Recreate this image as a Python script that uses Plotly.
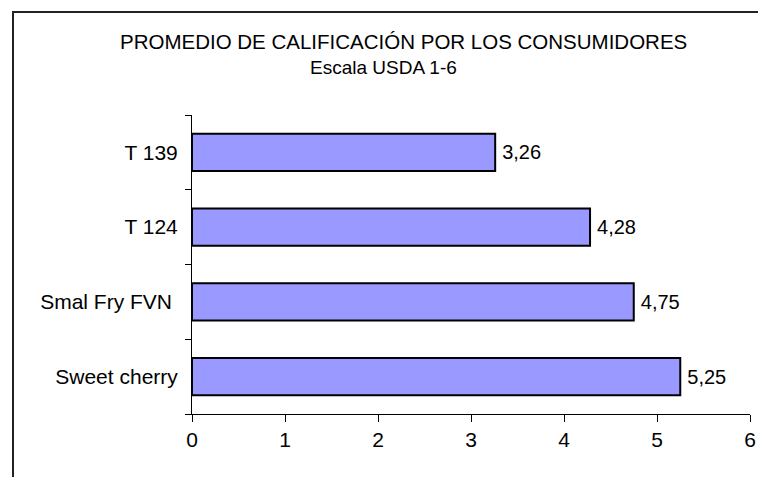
import plotly.graph_objects as go

categories = ["Sweet cherry", "Smal Fry FVN\u00a0", "T 124", "T 139"]
values = [5.25, 4.75, 4.28, 3.26]
x_ticks = [0, 1, 2, 3, 4, 5, 6]
title_line1 = "PROMEDIO DE CALIFICACIÓN POR LOS CONSUMIDORES"
title_line2 = "Escala USDA 1-6"

OFF = 8  # page body margin
W, H = 766 - OFF, 477 - OFF
# plot area in screenshot coordinates
X0, X1, Y0, Y1 = 192, 750, 115, 414
L, R, T, B = X0 - OFF, 766 - X1, Y0 - OFF, 477 - Y1
pw, ph = X1 - X0, Y1 - Y0

def px(x):
    return (x - X0) / pw

def py(y):
    return (Y1 - y) / ph

FONT = "Liberation Sans, Arial, sans-serif"
FS = 21

fig = go.Figure(go.Bar(
    y=categories, x=values, orientation="h",
    marker=dict(color="#9999FF", line=dict(color="#000000", width=2)),
    width=0.5,
    text=["\u2009" + f"{v:.2f}".replace(".", ",") for v in values],
    textposition="outside", cliponaxis=False,
    textfont=dict(family=FONT, size=20, color="#000000"),
))

fig.update_layout(
    width=W, height=H,
    margin=dict(l=L, r=R, t=T, b=B, pad=0, autoexpand=False),
    paper_bgcolor="white", plot_bgcolor="white",
    showlegend=False,
    font=dict(family=FONT, size=FS, color="#000000"),
    xaxis=dict(range=[0, 6], tickvals=x_ticks, ticktext=[str(v) for v in x_ticks],
               showgrid=False, zeroline=False, showline=True, linecolor="#000000",
               linewidth=1, ticks="outside", ticklen=7, tickcolor="#000000",
               tickfont=dict(size=FS), fixedrange=True, automargin=False),
    yaxis=dict(categoryorder="array", categoryarray=categories,
               showgrid=False, zeroline=False, showline=True, linecolor="#000000",
               linewidth=1, ticks="outside", ticklen=6, tickcolor="#000000",
               tickson="boundaries", ticklabelstandoff=9,
               tickfont=dict(size=FS), fixedrange=True, automargin=False),
    shapes=[dict(type="rect", xref="paper", yref="paper",
                 x0=px(13), x1=px(800), y0=py(500), y1=py(12),
                 line=dict(color="#222222", width=2), fillcolor="rgba(0,0,0,0)",
                 layer="below")],
    annotations=[
        dict(text=title_line1, xref="paper", yref="paper", x=px(403), y=py(42),
             showarrow=False, xanchor="center", yanchor="middle",
             font=dict(family=FONT, size=20.5, color="#000000")),
        dict(text=title_line2, xref="paper", yref="paper", x=px(383), y=py(67),
             showarrow=False, xanchor="center", yanchor="middle",
             font=dict(family=FONT, size=19, color="#000000")),
    ],
)

fig.write_html("out.html")
